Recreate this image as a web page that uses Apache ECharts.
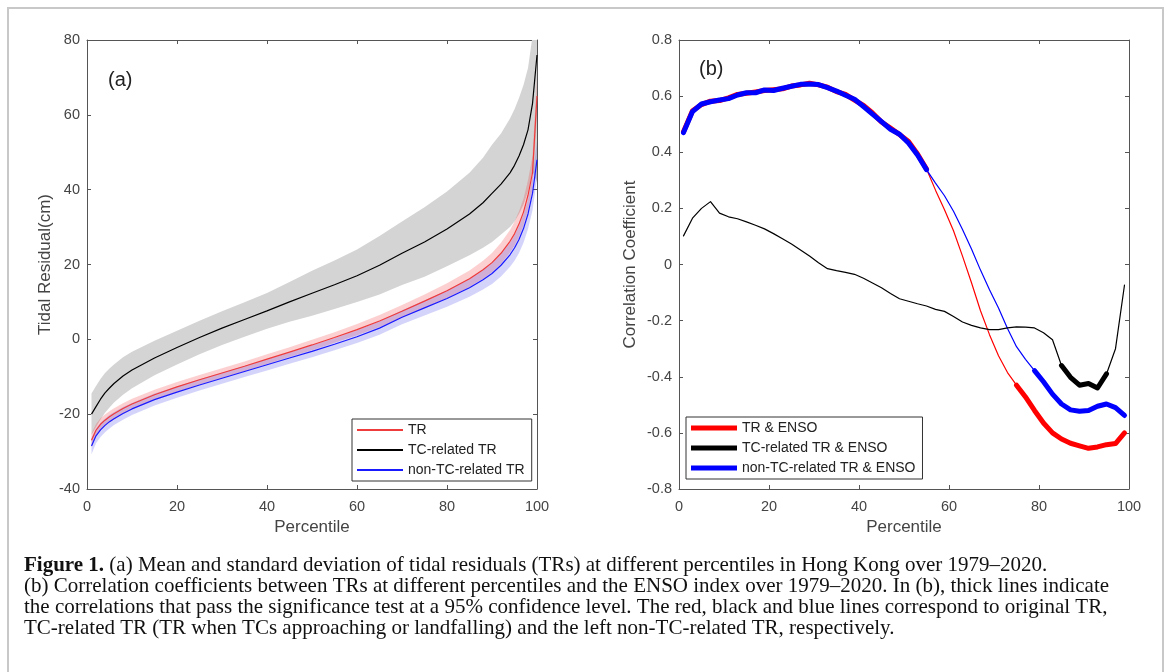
<!DOCTYPE html>
<html>
<head>
<meta charset="utf-8">
<script src="https://cdn.jsdelivr.net/npm/echarts/dist/echarts.min.js"></script>
<style>
html,body{margin:0;padding:0;background:#fff;}
#chart{width:1171px;height:672px;}
</style>
</head>
<body>
<div id="chart"></div>
<script>
// ---------- Panel (a): percentiles and mean/std of tidal residuals (cm) ----------
const pctA = [1,2,3,4,5,6,8,10,15,20,25,30,35,40,45,50,55,60,65,70,75,80,85,88,90,92,94,95,96,97,98,99,100];
const tcMean = [-20,-18,-16,-14.3,-13,-11.8,-9.8,-8.2,-5,-2.2,0.5,3,5.3,7.6,10,12.3,14.6,17,19.8,23,26,29.5,33.5,36.5,39,41.5,44.5,46.5,49,52,56,63,76];
const tcStd  = [5.5,5.5,5.4,5.3,5.2,5.1,5,4.9,4.6,4.5,4.5,4.5,4.6,4.8,5.3,6,6.5,7,7.8,8.5,9.3,10,11,12,13,13.5,14.5,15,15.5,16,16.5,18,34];
const trMean = [-27,-24.3,-22.7,-21.6,-20.7,-19.9,-18.5,-17.3,-14.8,-12.7,-10.8,-9,-7.2,-5.3,-3.4,-1.5,0.5,2.6,4.9,7.5,10.2,13,16.2,18.6,20.5,23,26.2,28.2,30.8,34,38.5,44.5,65];
const trStd  = [1.8,1.7,1.6,1.5,1.5,1.5,1.4,1.4,1.3,1.3,1.3,1.3,1.3,1.3,1.3,1.4,1.4,1.5,1.6,1.7,1.8,2,2.2,2.4,2.6,2.8,3,3.2,3.4,3.6,4,4.5,5];
const nonMean = [-28.5,-25.8,-24.2,-23,-22,-21.2,-19.8,-18.6,-16.1,-14.1,-12.2,-10.4,-8.6,-6.8,-5,-3.2,-1.3,0.7,3,5.9,8.4,10.9,13.8,15.9,17.6,19.8,22.6,24.4,26.7,29.6,33.5,39,48];
const nonStd  = [2.2,2,1.9,1.8,1.8,1.7,1.7,1.6,1.6,1.5,1.5,1.5,1.5,1.5,1.5,1.6,1.6,1.7,1.8,1.9,2,2.2,2.4,2.6,2.8,3,3.2,3.4,3.6,3.8,4,4.5,5];

// ---------- Panel (b): correlation with ENSO ----------
const pctB = [1,3,5,7,9,11,13,15,17,19,21,23,25,27,29,31,33,35,37,39,41,43,45,47,49,51,53,55,57,59,61,63,65,67,69,71,73,75,77,79,81,83,85,87,89,91,93,95,97,99];
const trCorr = [0.473,0.548,0.570,0.582,0.584,0.594,0.606,0.610,0.615,0.620,0.623,0.626,0.636,0.640,0.646,0.640,0.632,0.616,0.606,0.586,0.567,0.540,0.508,0.486,0.463,0.438,0.394,0.340,0.265,0.195,0.120,0.030,-0.065,-0.165,-0.250,-0.325,-0.385,-0.430,-0.472,-0.520,-0.565,-0.600,-0.622,-0.637,-0.646,-0.655,-0.650,-0.642,-0.638,-0.600];
const tcCorr = [0.102,0.165,0.200,0.224,0.183,0.170,0.163,0.152,0.140,0.127,0.110,0.092,0.073,0.052,0.030,0.006,-0.015,-0.022,-0.028,-0.035,-0.049,-0.066,-0.083,-0.103,-0.122,-0.131,-0.140,-0.148,-0.160,-0.167,-0.185,-0.205,-0.217,-0.226,-0.232,-0.232,-0.226,-0.222,-0.223,-0.226,-0.243,-0.268,-0.360,-0.402,-0.430,-0.424,-0.440,-0.390,-0.300,-0.073];
const nonCorr = [0.470,0.545,0.572,0.580,0.586,0.591,0.604,0.612,0.612,0.622,0.620,0.628,0.635,0.642,0.643,0.641,0.630,0.618,0.603,0.589,0.563,0.536,0.509,0.482,0.464,0.433,0.390,0.338,0.290,0.245,0.190,0.125,0.055,-0.020,-0.090,-0.155,-0.228,-0.293,-0.338,-0.378,-0.418,-0.462,-0.497,-0.518,-0.523,-0.520,-0.505,-0.497,-0.510,-0.538];
// significant (95%) percentile ranges -> thick lines
const trSig = [[1,55],[75,99]];
const tcSig = [[85,95]];
const nonSig = [[1,55],[79,99]];

const legendA = ['TR','TC-related TR','non-TC-related TR'];
const legendB = ['TR & ENSO','TC-related TR & ENSO','non-TC-related TR & ENSO'];

const captionLines = [
  '{b|Figure 1.} (a) Mean and standard deviation of tidal residuals (TRs) at different percentiles in Hong Kong over 1979\u20132020.',
  '(b) Correlation coefficients between TRs at different percentiles and the ENSO index over 1979\u20132020. In (b), thick lines indicate',
  'the correlations that pass the significance test at a 95% confidence level. The red, black and blue lines correspond to original TR,',
  'TC-related TR (TR when TCs approaching or landfalling) and the left non-TC-related TR, respectively.'
];

// ---------- build ----------
const SANS = "'Liberation Sans', Arial, sans-serif";
const SERIF = "'Liberation Serif', 'Times New Roman', serif";
const CAP = 21;
const pairs = (xs, ys) => xs.map((x, i) => [x, ys[i]]);
const sigPairs = (xs, ys, ranges) => xs.map((x, i) => [x, ranges.some(r => x >= r[0] && x <= r[1]) ? ys[i] : null]);

function band(name, mean, std, color) {
  const lo = mean.map((m, i) => m - std[i]);
  const hi = mean.map((m, i) => m + std[i]);
  return {
    type:'custom', name:name, xAxisIndex:0, yAxisIndex:0, silent:true, z:1,
    data: pairs(pctA, mean), encode:{x:0, y:1},
    renderItem: function(params, api) {
      if (params.dataIndex !== 0) return null;
      const pts = [];
      for (let i = 0; i < pctA.length; i++) pts.push(api.coord([pctA[i], hi[i]]));
      for (let i = pctA.length - 1; i >= 0; i--) pts.push(api.coord([pctA[i], lo[i]]));
      const cs = params.coordSys;
      return {type:'polygon', shape:{points:pts}, style:{fill:color, stroke:null},
              clipPath:{type:'rect', shape:{x:cs.x, y:cs.y, width:cs.width, height:cs.height}}};
    }
  };
}
function lineA(name, ys, color) {
  return {type:'line', name:name, color:color, xAxisIndex:0, yAxisIndex:0, data:pairs(pctA, ys),
          symbol:'none', showSymbol:false, lineStyle:{width:1.2, color:color}, z:5};
}
function lineB(name, ys, color, width, ranges) {
  return {type:'line', name:name, color:color, xAxisIndex:2, yAxisIndex:2,
          data: ranges ? sigPairs(pctB, ys, ranges) : pairs(pctB, ys),
          connectNulls:false, symbol:'none', showSymbol:false,
          lineStyle:{width:width, color:color, cap:'round', join:'round'}, z: ranges ? 6 : 4};
}

function axisCommon() {
  return {
    axisLine:{show:true, onZero:false, lineStyle:{color:'#555', width:1}},
    axisTick:{show:true, inside:true, length:4, lineStyle:{color:'#555'}},
    splitLine:{show:false}
  };
}
function xAx(grid, pos, labels) {
  return Object.assign(axisCommon(), {
    type:'value', gridIndex:grid, position:pos, min:0, max:100, interval:20,
    axisLabel:{show:labels, color:'#444', fontSize:14.5, fontFamily:SANS, margin:10},
    name: labels ? 'Percentile' : '', nameLocation:'middle', nameGap:30,
    nameTextStyle:{color:'#444', fontSize:17, fontFamily:SANS}
  });
}
function yAx(grid, pos, labels, mn, mx, iv, name, gap) {
  return Object.assign(axisCommon(), {
    type:'value', gridIndex:grid, position:pos, min:mn, max:mx, interval:iv,
    axisLabel:{show:labels, color:'#444', fontSize:14.5, fontFamily:SANS, margin:7},
    name: labels ? name : '', nameLocation:'middle', nameGap:gap, nameRotate:90,
    nameTextStyle:{color:'#444', fontSize:17, fontFamily:SANS}
  });
}
function legend(data, left, top, h) {
  return {data:data, orient:'vertical', left:left, top:top, icon:'rect', itemWidth:46, itemHeight:h,
    itemGap:4, padding:[3,7,3,5], borderColor:'#333', borderWidth:1, backgroundColor:'#fff',
    selectedMode:false, textStyle:{fontSize:14, color:'#222', fontFamily:SANS, lineHeight:16}};
}

const series = [
  band('tc-band', tcMean, tcStd, '#d4d4d4'),
  lineA('TC-related TR', tcMean, '#000000'),
  band('tr-band', trMean, trStd, 'rgba(240,40,40,0.22)'),
  lineA('TR', trMean, '#ee3b3b'),
  band('non-band', nonMean, nonStd, 'rgba(40,40,235,0.2)'),
  lineA('non-TC-related TR', nonMean, '#1a1aff'),
  lineB('TR thin', trCorr, '#ff0000', 1.2),
  lineB('non thin', nonCorr, '#0000ff', 1.2),
  lineB('TC thin', tcCorr, '#000000', 1.2),
  lineB('TR & ENSO', trCorr, '#ff0000', 5, trSig),
  lineB('non-TC-related TR & ENSO', nonCorr, '#0000ff', 5, nonSig),
  lineB('TC-related TR & ENSO', tcCorr, '#000000', 5, tcSig)
];

const graphics = [
  {type:'rect', shape:{x:8, y:8, width:1155, height:700}, style:{fill:null, stroke:'#c8c8c8', lineWidth:2}, z:-10},
  {type:'text', left:108, top:70, style:{text:'(a)', fontSize:20, fontFamily:SANS, fill:'#222'}},
  {type:'text', left:699, top:59, style:{text:'(b)', fontSize:20, fontFamily:SANS, fill:'#222'}}
];
captionLines.forEach((t, i) => {
  graphics.push({type:'text', left:24, top:555 + i*21,
    style:{text:t, fontSize:CAP, fontFamily:SERIF, fill:'#111',
      rich:{b:{fontWeight:'bold', fontSize:CAP, fontFamily:SERIF, fill:'#111'}}}});
});

const option = {
  animation:false,
  backgroundColor:'#fff',
  grid:[
    {left:87, top:40, width:450, height:449, containLabel:false},
    {left:679, top:40, width:450, height:449, containLabel:false}
  ],
  xAxis:[xAx(0,'bottom',true), xAx(0,'top',false), xAx(1,'bottom',true), xAx(1,'top',false)],
  yAxis:[
    yAx(0,'left',true,-40,80,20,'Tidal Residual(cm)',33),
    yAx(0,'right',false,-40,80,20,'',0),
    yAx(1,'left',true,-0.8,0.8,0.2,'Correlation Coefficient',40),
    yAx(1,'right',false,-0.8,0.8,0.2,'',0)
  ],
  legend:[legend(legendA, 352, 419, 2), legend(legendB, 686, 417, 5)],
  series:series,
  graphic:graphics
};
const chart = echarts.init(document.getElementById('chart'), null, {renderer:'canvas'});
chart.setOption(option);
</script>
</body>
</html>
